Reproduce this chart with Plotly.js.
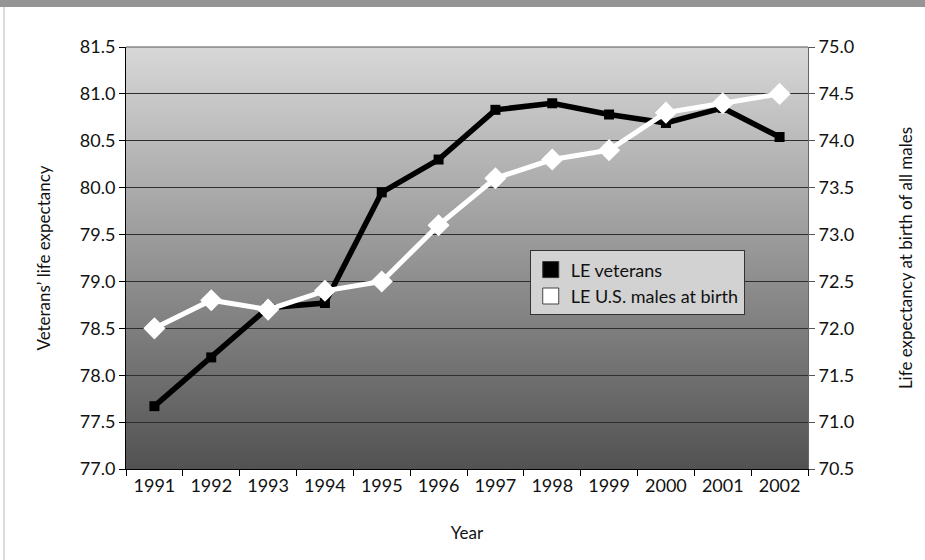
<!DOCTYPE html>
<html>
<head>
<meta charset="utf-8">
<script src="https://cdn.plot.ly/plotly-3.0.1.min.js"></script>
<style>
html,body{margin:0;padding:0;background:#fff;}
#wrap{position:relative;width:925px;height:560px;overflow:hidden;}
#chart{position:absolute;left:0;top:0;width:925px;height:560px;}
#topband{position:absolute;left:0;top:0;width:925px;height:7px;background:#959595;z-index:5;}
#leftline{position:absolute;left:3px;top:7px;width:2px;height:553px;background:#dcdcdc;z-index:5;}
</style>
</head>
<body>
<div id="wrap">
<div id="chart"></div>
<div id="topband"></div>
<div id="leftline"></div>
</div>
<script>
const years = ['1991','1992','1993','1994','1995','1996','1997','1998','1999','2000','2001','2002'];
const veterans = [77.67, 78.19, 78.72, 78.77, 79.95, 80.30, 80.83, 80.90, 80.78, 80.69, 80.85, 80.54];
const usMales = [72.0, 72.3, 72.2, 72.4, 72.5, 73.1, 73.6, 73.8, 73.9, 74.3, 74.4, 74.5];
const seriesNames = ['LE veterans', 'LE U.S. males at birth'];

const fontFam = 'Lato, "Open Sans", sans-serif';

const grad = '<svg xmlns="http://www.w3.org/2000/svg" width="10" height="100" preserveAspectRatio="none">' +
  '<defs><linearGradient id="g" x1="0" y1="0" x2="0" y2="1">' +
  '<stop offset="0" stop-color="#d8d8d8"/><stop offset="1" stop-color="#525252"/>' +
  '</linearGradient></defs><rect width="10" height="100" fill="url(#g)"/></svg>';
const gradSrc = 'data:image/svg+xml;charset=utf-8,' + encodeURIComponent(grad);

const traces = [
  {x: years, y: veterans, type: 'scatter', mode: 'lines+markers', name: seriesNames[0], showlegend: false,
   line: {color: '#000', width: 5.5}, marker: {symbol: 'square', size: 10, color: '#000'}, yaxis: 'y'},
  {x: years, y: usMales, type: 'scatter', mode: 'lines+markers', name: seriesNames[1], showlegend: false,
   line: {color: '#fff', width: 5}, marker: {symbol: 'diamond', size: 17, color: '#fff'}, yaxis: 'y2'},
  {x: [null], y: [null], type: 'scatter', mode: 'markers', name: seriesNames[0],
   marker: {symbol: 'square', size: 18, color: '#000', line: {color: '#333', width: 1}}},
  {x: [null], y: [null], type: 'scatter', mode: 'markers', name: seriesNames[1],
   marker: {symbol: 'square', size: 18, color: '#fff', line: {color: '#444', width: 1}}}
];

const layout = {
  width: 925, height: 560,
  margin: {l: 126, r: 117, t: 47, b: 91},
  paper_bgcolor: '#fff',
  plot_bgcolor: 'rgba(0,0,0,0)',
  font: {family: fontFam, size: 18, color: '#111'},
  images: [{source: gradSrc, xref: 'paper', yref: 'paper', x: 0, y: 1, sizex: 1, sizey: 1,
            sizing: 'stretch', layer: 'below', xanchor: 'left', yanchor: 'top'}],
  xaxis: {
    type: 'category', range: [-0.5, 11.5], tickson: 'boundaries', ticks: 'outside', ticklen: 6, tickcolor: '#000',
    showline: true, linecolor: '#000', linewidth: 1, showgrid: false,
    title: {text: 'Year', standoff: 32, font: {size: 17}},
    tickfont: {size: 18}
  },
  yaxis: {
    range: [77.0, 81.5], dtick: 0.5, tickformat: '.1f', ticks: 'outside', ticklen: 6, tickcolor: '#000',
    showline: true, linecolor: '#000', linewidth: 1, showgrid: true, gridcolor: '#2e2e2e', gridwidth: 1,
    zeroline: false, mirror: false, tickfont: {size: 18},
    title: {text: 'Veterans\u2019 life expectancy', standoff: 24, font: {size: 17}}
  },
  yaxis2: {
    overlaying: 'y', side: 'right', range: [70.5, 75.0], dtick: 0.5, tickformat: '.1f',
    ticks: 'outside', ticklen: 6, tickcolor: '#555', showline: true, linecolor: '#666', linewidth: 1,
    showgrid: false, zeroline: false, tickfont: {size: 18},
    title: {text: 'Life expectancy at birth of all males', standoff: 46, font: {size: 17}}
  },
  shapes: [{type: 'line', xref: 'paper', yref: 'paper', x0: 0, x1: 1, y0: 1, y1: 1, line: {color: '#555', width: 1}}],
  legend: {
    x: 0.592, y: 0.518, xanchor: 'left', yanchor: 'top',
    bgcolor: '#d2d2d2', bordercolor: '#333', borderwidth: 1,
    font: {size: 18, color: '#111'}, itemsizing: 'trace', tracegroupgap: 0
  },
  showlegend: true
};

Plotly.newPlot('chart', traces, layout, {displayModeBar: false, staticPlot: true});
</script>
</body>
</html>
